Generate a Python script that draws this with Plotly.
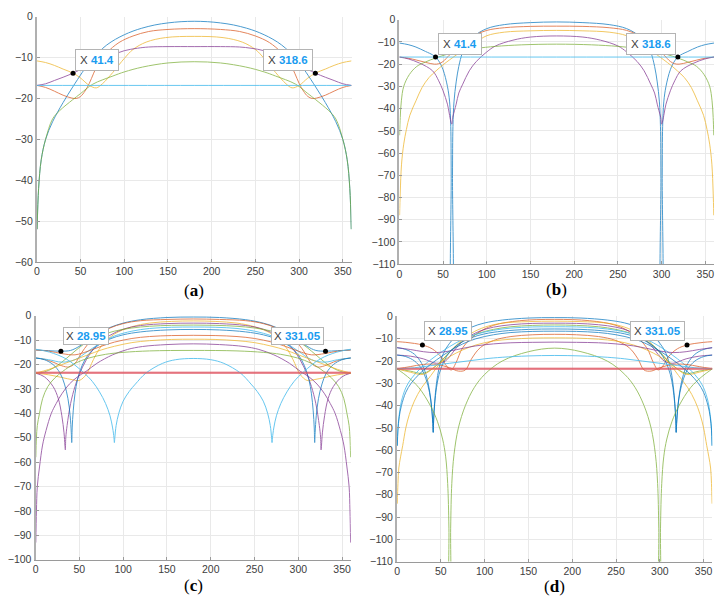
import plotly.graph_objects as go

# ---------------- DATA (dB patterns) ----------------
# Each pattern is symmetric about 180 deg: values are read for 0..180 and mirrored.
BLUE, ORANGE, YELLOW, PURPLE, GREEN, CYAN, RED = (
    "#0072BD", "#D95319", "#EDB120", "#7E2F8E", "#77AC30", "#4DBEEE", "#E05A66")

# panel (a)
A_blue_x = [0.3, 2, 5, 10, 18, 30, 41, 52, 60, 71, 80, 90, 100, 110, 120, 135, 150, 165, 180]
A_blue_y = [-52, -42, -35, -30, -25.7, -21, -17.2, -13.6, -11.2, -8.6, -6.9, -5.5, -4.4, -3.5, -2.8, -2.0, -1.5, -1.2, -1.1]
A_orange_x = [0, 10, 20, 30, 40, 45, 50, 55, 60, 65, 71, 80, 94, 110, 128, 150, 180]
A_orange_y = [-16.8, -17.3, -18.2, -19.2, -19.9, -20, -19.5, -18.2, -16.3, -13.8, -11.2, -8.8, -6.3, -4.7, -3.6, -3.1, -2.9]
A_yellow_x = [0, 10, 20, 30, 41.4, 50, 60, 68, 75, 87, 100, 110, 125, 147, 180]
A_yellow_y = [-10.8, -11.2, -11.9, -12.8, -13.8, -15, -16.8, -17.4, -16.4, -13.6, -10.2, -8, -6.2, -5.1, -4.8]
A_purple_x = [0, 10, 20, 30, 41.4, 50, 60, 75, 87, 100, 115, 128, 150, 180]
A_purple_y = [-16.8, -16.4, -15.6, -14.8, -13.8, -12.9, -11.8, -10.2, -9.3, -8.3, -7.7, -7.4, -7.3, -7.3]
A_green_x = [0.3, 2, 5, 10, 18, 26, 41, 50, 64, 87, 100, 121, 150, 180]
A_green_y = [-52, -42, -35, -30, -25, -23, -20.3, -18.8, -16.5, -14.5, -13.5, -12.3, -11.3, -11]
A_cyan_x = [0, 180]
A_cyan_y = [-16.8, -16.8]

# panel (b)
B_blue_x = [0, 10, 19, 30, 38, 41.4, 45, 50, 55, 57.5, 58.8, 59.3, 59.7, 60.4, 60.8, 61.3, 62.5, 65, 68, 72, 76, 85, 100, 120, 150, 180]
B_blue_y = [-10.5, -11.2, -12.3, -14.3, -15.8, -16.8, -18.5, -22.5, -30, -37, -48, -70, -130, -130, -70, -48, -37, -28, -21, -15, -11.5, -7.5, -4, -2.2, -1.3, -1.0]
B_orange_x = [0, 10, 20, 30, 40, 45, 50, 57, 65, 72, 85, 100, 120, 150, 180]
B_orange_y = [-16.8, -17.3, -18.2, -19.2, -20, -19.8, -18.8, -16, -13, -10.7, -7.2, -4.8, -3.6, -3.0, -2.9]
B_yellow_x = [0.3, 1, 2.5, 5, 8, 12, 19, 26, 34, 42, 50, 65, 75, 88, 100, 120, 150, 180]
B_yellow_y = [-88, -78, -65, -56, -49.5, -43, -36.5, -30.5, -26, -23, -20.3, -15.9, -13.2, -10, -7.2, -5.6, -5, -4.8]
B_purple_x = [0, 10, 23, 38, 45, 50, 55, 57, 59, 60, 61, 63, 65, 68, 72.5, 80, 88, 100, 110, 130, 150, 180]
B_purple_y = [-16.8, -17.6, -19.5, -23, -27.5, -32, -38, -42, -46, -47, -44, -41, -38, -33, -29, -23, -18.8, -14.5, -11.8, -9.2, -7.8, -7.3]
B_green_x = [0.3, 1, 2.3, 5, 11.4, 20, 30, 41, 55, 70, 88, 110, 140, 180]
B_green_y = [-52, -44, -36.5, -30, -24.7, -21, -19, -17.3, -15.5, -14, -12.9, -12, -11.3, -11]
B_cyan_x = [0, 180]
B_cyan_y = [-16.8, -16.8]

# panel (c)
C1_x = [0, 15, 29, 40, 50, 60, 70, 85, 100, 120, 150, 180]
C1_y = [-14, -14.3, -14.5, -14.2, -12.5, -10, -7.5, -4.8, -3, -1.6, -0.7, -0.5]
C2_x = [0, 10, 20, 30, 38, 45, 52, 60, 70, 85, 100, 120, 150, 180]
C2_y = [-17.3, -17.8, -19, -20.5, -21, -19.5, -15.5, -11.5, -8, -5, -3.2, -2, -1.5, -1.3]
C3_x = [0, 15, 30, 42, 50, 58, 66, 75, 90, 110, 130, 155, 180]
C3_y = [-23.5, -24.2, -25.3, -26.2, -26.5, -24, -18, -12.5, -7.5, -4.5, -3, -2.3, -2.1]
C4_x = [0, 10, 20, 26, 30, 32.5, 33.5, 34, 34.5, 36, 40, 45, 50, 58, 70, 85, 100, 120, 150, 180]
C4_y = [-23.5, -25, -29, -34, -41, -48, -53, -55, -50, -45, -36, -29, -24, -18, -12, -8, -5.5, -4, -3.2, -3]
C5_x = [0, 10, 20, 30, 40, 50, 60, 75, 90, 110, 130, 155, 180]
C5_y = [-23.5, -23, -21.5, -19, -16, -13, -10.5, -8, -6.3, -5, -4.3, -3.9, -3.8]
C6_x = [0, 15, 30, 45, 60, 75, 90, 110, 130, 155, 180]
C6_y = [-17.3, -18, -19, -18, -14.5, -11, -8.3, -6.3, -5.2, -4.7, -4.6]
C7_x = [0, 180]
C7_y = [-23.4, -23.4]
C8_x = [0, 10, 20, 28, 33, 37, 39.5, 40.8, 41.3, 41.8, 43, 45, 48, 53, 60, 70, 85, 100, 120, 150, 180]
C8_y = [-17.3, -18, -20, -23.5, -28, -34, -41, -48, -52, -46, -39, -32, -26, -20.5, -16, -12.5, -9.5, -7.8, -6.6, -5.8, -5.6]
C9_x = [0, 15, 30, 45, 60, 75, 90, 110, 130, 155, 180]
C9_y = [-14, -14.5, -15.5, -16, -14.5, -12.5, -10.8, -9.3, -8.5, -8.1, -8]
C10_x = [0, 15, 30, 45, 60, 75, 90, 110, 130, 155, 180]
C10_y = [-23.5, -22, -20, -18, -16, -14, -12.5, -11, -10.2, -9.7, -9.6]
C11_x = [0.3, 1, 2, 4.5, 8, 12, 18, 23.5, 30, 38.6, 48, 57.6, 70, 88, 105, 122, 150, 180]
C11_y = [-93, -80, -70, -62, -53, -47, -40, -36, -32, -28, -25, -22.8, -19.5, -16, -13.8, -12.6, -11.8, -11.5]
C12_x = [0.3, 1, 2, 4.5, 8, 14, 22, 31, 45, 61, 80, 100, 130, 180]
C12_y = [-58, -50, -45, -40, -34, -29, -25.5, -22.8, -19.5, -17.3, -15.8, -15, -14.4, -14.2]
C13_x = [0, 16, 35, 54, 65, 73, 80, 85, 88, 89.5, 90, 90.5, 92, 95, 100, 107, 114, 126, 145, 160, 180]
C13_y = [-13.7, -14.9, -17.7, -23, -27, -31.2, -36, -41, -46, -50, -52, -50, -45, -40, -35, -31, -28, -23.5, -19.5, -18, -17.5]
C14_x = [0, 180]
C14_y = [-23.4, -23.4]

# panel (d)
D1_x = [0, 10, 20, 28, 33, 37, 39.5, 40.8, 41.3, 41.8, 43, 45, 48, 53, 60, 70, 85, 100, 120, 150, 180]
D1_y = [-14, -14.8, -17, -21, -26, -33, -41, -48, -52, -46, -38, -30, -23, -16.5, -12, -8, -4.8, -2.9, -1.6, -0.7, -0.5]
D2_x = [0, 10, 20, 29, 40, 50, 57, 62, 67, 75, 90, 110, 140, 180]
D2_y = [-11.3, -11.6, -12.1, -12.8, -14.5, -18, -22.5, -24, -21, -14, -8, -4, -1.9, -1.3]
D3_x = [0.3, 1, 2, 4, 6.4, 10, 14, 19.7, 28, 38.6, 48, 57.6, 70, 85, 100, 120, 150, 180]
D3_y = [-84, -75, -68, -63, -58, -50, -44, -38, -32, -26.5, -21.5, -17, -12, -7.5, -4.8, -3, -2.3, -2.1]
D4_x = [0, 15, 30, 45, 55, 62, 70, 80, 95, 110, 130, 155, 180]
D4_y = [-17.3, -17.8, -19, -21, -20, -17, -13, -9.5, -6.5, -4.8, -3.7, -3.1, -3]
D5_x = [0, 15, 30, 45, 60, 75, 90, 110, 130, 155, 180]
D5_y = [-23.5, -24.5, -25.5, -22, -16, -11, -8, -5.8, -4.6, -4, -3.8]
D6_x = [0.3, 1, 2.5, 5, 10, 16, 25, 35, 45, 60, 75, 90, 110, 130, 155, 180]
D6_y = [-58, -50, -44, -38, -32, -28, -24, -20.5, -17.5, -13.5, -10.3, -8, -6.2, -5.2, -4.7, -4.6]
D7_x = [0, 180]
D7_y = [-23.5, -23.5]
D8_x = [0, 10, 20, 28, 33, 37, 39.5, 40.8, 41.3, 41.8, 43, 45, 48, 53, 60, 70, 85, 100, 120, 150, 180]
D8_y = [-17.3, -18, -20, -23.5, -28, -34, -41, -48, -52, -46, -39, -32, -26, -20.5, -16, -12.5, -9.5, -7.8, -6.6, -5.8, -5.6]
D9_x = [0, 15, 30, 45, 60, 70, 78, 85, 95, 110, 130, 155, 180]
D9_y = [-23.5, -22.5, -21.5, -21.5, -23, -24.5, -24, -19, -14, -10.8, -9, -8.2, -8]
D10_x = [0, 15, 30, 45, 60, 75, 90, 110, 130, 155, 180]
D10_y = [-23.5, -25, -26, -22, -18, -15, -12.8, -11, -10.2, -9.7, -9.6]
D11_x = [0, 15, 30, 45, 60, 75, 90, 110, 130, 155, 180]
D11_y = [-14, -14.8, -15.8, -16.2, -15.5, -14.3, -13.2, -12.3, -11.8, -11.6, -11.5]
D12_x = [0, 12, 25, 38, 46, 52, 55.5, 57.8, 59.2, 59.8, 60.5, 61.2, 62.5, 65, 70, 78, 88, 100, 120, 150, 180]
D12_y = [-23.5, -27, -32, -40, -47, -55, -63, -75, -95, -130, -130, -95, -75, -62, -50, -40, -32, -26, -20, -15.8, -14.2]
D13_x = [0, 20, 40, 60, 80, 100, 120, 150, 180]
D13_y = [-23.5, -23, -22, -21, -20, -19, -18.3, -17.7, -17.5]
D14_x = [0, 180]
D14_y = [-23.5, -23.5]
D15_x = [0.3, 1, 2.5, 5, 10, 16, 25, 35, 45, 60, 75, 90, 110, 130, 155, 180]
D15_y = [-58, -51, -45, -40, -34, -30, -26, -22.5, -19.5, -15.5, -12.3, -10, -8.2, -7.2, -6.7, -6.6]

# data tips: (angle, level)
TIPS = {
    "a": [(41.4, -13.8, "41.4"), (318.6, -13.8, "318.6")],
    "b": [(41.4, -16.8, "41.4"), (318.6, -16.8, "318.6")],
    "c": [(28.95, -14.5, "28.95"), (331.05, -14.5, "331.05")],
    "d": [(28.95, -12.8, "28.95"), (331.05, -12.8, "331.05")],
}
PANEL_LABELS = ["a", "b", "c", "d"]
X_TICKS = [0, 50, 100, 150, 200, 250, 300, 350]
Y_RANGES = {"a": (-60, 0), "b": (-110, 0), "c": (-100, 0), "d": (-110, 0)}

PANELS = {
    "a": [(A_blue_x, A_blue_y, BLUE), (A_orange_x, A_orange_y, ORANGE), (A_yellow_x, A_yellow_y, YELLOW),
          (A_purple_x, A_purple_y, PURPLE), (A_green_x, A_green_y, GREEN), (A_cyan_x, A_cyan_y, CYAN)],
    "b": [(B_blue_x, B_blue_y, BLUE), (B_orange_x, B_orange_y, ORANGE), (B_yellow_x, B_yellow_y, YELLOW),
          (B_purple_x, B_purple_y, PURPLE), (B_green_x, B_green_y, GREEN), (B_cyan_x, B_cyan_y, CYAN)],
    "c": [(C1_x, C1_y, BLUE), (C2_x, C2_y, ORANGE), (C3_x, C3_y, YELLOW), (C4_x, C4_y, PURPLE),
          (C5_x, C5_y, GREEN), (C6_x, C6_y, CYAN), (C7_x, C7_y, RED), (C8_x, C8_y, BLUE),
          (C9_x, C9_y, ORANGE), (C10_x, C10_y, YELLOW), (C11_x, C11_y, PURPLE), (C12_x, C12_y, GREEN),
          (C13_x, C13_y, CYAN), (C14_x, C14_y, RED)],
    "d": [(D1_x, D1_y, BLUE), (D2_x, D2_y, ORANGE), (D3_x, D3_y, YELLOW), (D4_x, D4_y, PURPLE),
          (D5_x, D5_y, GREEN), (D6_x, D6_y, CYAN), (D7_x, D7_y, RED), (D8_x, D8_y, BLUE),
          (D9_x, D9_y, ORANGE), (D10_x, D10_y, YELLOW), (D11_x, D11_y, PURPLE), (D12_x, D12_y, GREEN),
          (D13_x, D13_y, CYAN), (D14_x, D14_y, RED), (D15_x, D15_y, BLUE)],
}


def mirror(xs, ys):
    return (list(xs) + [360 - v for v in reversed(xs[:-1])],
            list(ys) + list(reversed(ys[:-1])))


# ---------------- LAYOUT (pixel boxes of the four plot areas) ----------------
W, H = 726, 612
BOX = {"a": (34, 350, 11, 261), "b": (398, 714, 14, 263.3),
       "c": (32.7, 349.3, 316, 564.7), "d": (395.7, 712.3, 316.7, 566.7)}
LABEL_Y = {"a": 290, "b": 289, "c": 591, "d": 592}
TIP_SHIFT = {"a": 2, "b": 2, "c": 6, "d": 4}
TIP_PAD = {"a": 4, "b": 4, "c": 2, "d": 3}

fig = go.Figure()
layout = dict(width=W, height=H, margin=dict(l=0, r=0, t=0, b=0),
              paper_bgcolor="white", plot_bgcolor="white", showlegend=False)
annotations = []

for i, key in enumerate(PANEL_LABELS):
    n = "" if i == 0 else str(i + 1)
    xa, ya = "x" + n, "y" + n
    x0, x1, y0, y1 = BOX[key]
    for xs, ys, col in PANELS[key]:
        fx, fy = mirror(xs, ys)
        w = 2 if col == RED else 1
        op = 0.6 if col == RED else (0.85 if col == CYAN else 0.7)
        fig.add_trace(go.Scatter(x=fx, y=fy, mode="lines", xaxis=xa, yaxis=ya,
                                 line=dict(color=col, width=w, shape="spline", smoothing=1.0),
                                 opacity=op, hoverinfo="skip"))
    # data tip markers
    fig.add_trace(go.Scatter(x=[t[0] for t in TIPS[key]], y=[t[1] for t in TIPS[key]],
                             mode="markers", xaxis=xa, yaxis=ya,
                             marker=dict(color="black", size=5), hoverinfo="skip"))
    for j, (tx, ty, txt) in enumerate(TIPS[key]):
        annotations.append(dict(
            x=tx, y=ty, xref=xa, yref=ya, showarrow=False,
            xanchor="left" if j == 0 else "right", yanchor="bottom",
            xshift=2 if j == 0 else -2, yshift=TIP_SHIFT[key],
            text="X <b><span style='color:#1a9cf0'>%s</span></b>" % txt,
            font=dict(family="Liberation Sans, Arial", size=11.5, color="#404040"),
            bgcolor="white", bordercolor="#b4b4b4", borderwidth=1, borderpad=TIP_PAD[key]))
    annotations.append(dict(
        x=((x0 + x1) / 2) / W, y=1 - LABEL_Y[key] / H, xref="paper", yref="paper",
        showarrow=False, xanchor="center", yanchor="middle",
        text="(<b>%s</b>)" % key,
        font=dict(family="Liberation Serif, DejaVu Serif, serif", size=17, color="black")))
    axis_font = dict(family="Liberation Sans, Arial", size=10.5, color="#404040")
    lo, hi = Y_RANGES[key]
    layout["xaxis" + n] = dict(domain=[x0 / W, x1 / W], anchor=ya, range=[0, 360],
                               tickvals=X_TICKS, showgrid=True, gridcolor="#e9e9e9",
                               zeroline=False, showline=True, linecolor="#9a9a9a", linewidth=1,
                               ticks="inside", ticklen=3, tickcolor="#9a9a9a", tickfont=axis_font)
    layout["yaxis" + n] = dict(domain=[1 - y1 / H, 1 - y0 / H], anchor=xa, range=[lo, hi],
                               tickvals=list(range(lo, hi + 1, 10)), showgrid=True,
                               gridcolor="#e9e9e9", zeroline=False, showline=True,
                               linecolor="#b0b0b0", linewidth=2, ticks="inside", ticklen=3,
                               tickcolor="#9a9a9a", tickfont=axis_font)

layout["annotations"] = annotations
fig.update_layout(**layout)
fig.write_html("out.html")
